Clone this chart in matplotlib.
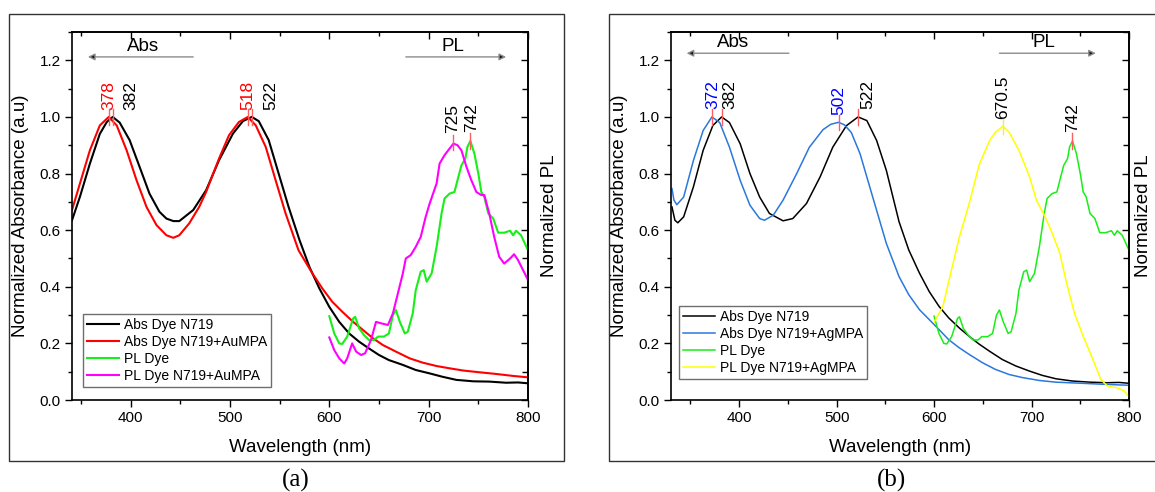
import matplotlib
matplotlib.use('Agg')
import matplotlib.pyplot as plt
from matplotlib.patches import Rectangle
from matplotlib.ticker import MultipleLocator, NullFormatter

plt.rcParams['font.family'] = ['Liberation Sans', 'DejaVu Sans']

###############################
### panel (a): dye N719 vs dye + AuMPA

wl_abs_dye_a = [341, 349, 359, 369, 376, 382, 389, 399, 409, 419, 429, 436, 443, 449, 463, 476, 489, 503, 513, 522,
	529, 539, 549, 559, 570, 580, 590, 600, 610, 620, 630, 640, 650, 660, 674, 687, 701, 714, 728, 745, 761, 778, 790, 800]
abs_dye_a = [0.635, 0.718, 0.835, 0.94, 0.982, 1.0, 0.98, 0.918, 0.824, 0.729, 0.665, 0.641, 0.632, 0.632, 0.671, 0.741,
	0.847, 0.941, 0.985, 1.0, 0.985, 0.918, 0.8, 0.682, 0.565, 0.47, 0.394, 0.329, 0.276, 0.235, 0.206, 0.182, 0.159,
	0.141, 0.124, 0.106, 0.094, 0.082, 0.071, 0.066, 0.065, 0.061, 0.062, 0.059]

wl_abs_au = [341, 349, 359, 369, 378, 386, 396, 406, 416, 426, 436, 443, 449, 459, 469, 476, 489, 499, 509, 518, 526,
	536, 546, 556, 569, 583, 593, 603, 613, 624, 634, 644, 654, 667, 681, 694, 708, 721, 735, 751, 768, 785, 800]
abs_au = [0.671, 0.765, 0.882, 0.97, 1.0, 0.97, 0.882, 0.776, 0.682, 0.618, 0.582, 0.573, 0.582, 0.624, 0.682, 0.735,
	0.853, 0.935, 0.982, 1.0, 0.97, 0.894, 0.776, 0.659, 0.529, 0.447, 0.394, 0.347, 0.312, 0.276, 0.247, 0.218, 0.194,
	0.171, 0.147, 0.132, 0.12, 0.112, 0.104, 0.098, 0.092, 0.085, 0.08]

# PL of the bare dye, same measurement in both panels
wl_pl_dye = [600, 605, 610, 613, 618, 624, 626, 630, 635, 640, 645, 649, 655, 660, 664, 667, 671, 676, 679, 684, 687,
	692, 695, 698, 703, 708, 713, 716, 721, 726, 729, 733, 737, 739, 742, 746, 750, 753, 756, 760, 765, 770, 776, 782,
	785, 788, 793, 800]
pl_dye = [0.296, 0.235, 0.2, 0.198, 0.224, 0.288, 0.294, 0.253, 0.229, 0.212, 0.212, 0.224, 0.224, 0.235, 0.3, 0.318,
	0.276, 0.235, 0.241, 0.306, 0.388, 0.453, 0.459, 0.418, 0.447, 0.541, 0.659, 0.712, 0.729, 0.735, 0.776, 0.829, 0.853,
	0.894, 0.915, 0.871, 0.8, 0.735, 0.718, 0.659, 0.641, 0.591, 0.591, 0.598, 0.582, 0.598, 0.582, 0.529]

wl_pl_au = [600, 605, 610, 615, 618, 623, 627, 632, 636, 642, 647, 652, 659, 664, 669, 674, 677, 682, 687, 692, 697,
	701, 708, 711, 716, 721, 725, 729, 733, 738, 743, 748, 753, 756, 761, 766, 771, 776, 782, 786, 790, 795, 800]
pl_au = [0.221, 0.176, 0.147, 0.129, 0.147, 0.2, 0.171, 0.159, 0.165, 0.212, 0.276, 0.271, 0.265, 0.306, 0.376, 0.447,
	0.5, 0.512, 0.541, 0.576, 0.647, 0.694, 0.765, 0.835, 0.865, 0.888, 0.906, 0.9, 0.882, 0.824, 0.776, 0.735, 0.724,
	0.724, 0.659, 0.576, 0.506, 0.482, 0.5, 0.515, 0.494, 0.459, 0.424]

peaks_a_x = [378, 382, 518, 522, 725, 742]
peaks_a_y = [1.0, 1.0, 1.0, 1.0, 0.91, 0.915]
peaks_a_txt = ['378', '382', '518', '522', '725', '742']

###############################
### panel (b): dye N719 vs dye + AgMPA

wl_abs_dye_b = [331, 334, 337, 343, 353, 363, 373, 382, 390, 401, 411, 421, 431, 445, 455, 469, 483, 496, 510, 522,
	531, 541, 551, 564, 574, 585, 595, 605, 615, 626, 636, 646, 657, 670, 684, 698, 711, 725, 742, 760, 777, 790, 800]
abs_dye_b = [0.682, 0.635, 0.626, 0.647, 0.753, 0.882, 0.97, 1.0, 0.98, 0.905, 0.8, 0.717, 0.659, 0.633, 0.641, 0.694,
	0.788, 0.893, 0.969, 1.0, 0.987, 0.917, 0.811, 0.63, 0.53, 0.448, 0.383, 0.331, 0.29, 0.254, 0.225, 0.198, 0.172,
	0.143, 0.12, 0.102, 0.087, 0.075, 0.067, 0.063, 0.061, 0.062, 0.059]

wl_abs_ag = [331, 333, 336, 343, 353, 363, 372, 380, 390, 401, 411, 421, 426, 435, 445, 459, 472, 486, 494, 502, 508,
	515, 524, 537, 551, 564, 574, 585, 595, 605, 615, 626, 636, 650, 663, 677, 691, 708, 725, 752, 777, 800]
abs_ag = [0.747, 0.706, 0.69, 0.717, 0.846, 0.952, 1.0, 0.98, 0.893, 0.776, 0.688, 0.641, 0.635, 0.653, 0.706, 0.8,
	0.893, 0.955, 0.974, 0.981, 0.972, 0.945, 0.87, 0.717, 0.553, 0.436, 0.372, 0.319, 0.284, 0.249, 0.213, 0.184, 0.161,
	0.131, 0.108, 0.09, 0.079, 0.069, 0.063, 0.059, 0.055, 0.052]

wl_pl_ag = [600, 609, 617, 626, 636, 646, 657, 663, 670.5, 677, 687, 698, 705, 713, 720, 729, 736, 744, 753, 763, 771,
	778, 788, 795, 800]
pl_ag = [0.274, 0.331, 0.448, 0.577, 0.694, 0.829, 0.917, 0.946, 0.967, 0.946, 0.882, 0.788, 0.706, 0.653, 0.6, 0.518,
	0.413, 0.307, 0.225, 0.143, 0.073, 0.049, 0.043, 0.032, 0.012]

peaks_b_x = [372, 382, 502, 522, 670.5, 742]
peaks_b_y = [1.0, 1.0, 0.98, 1.0, 0.967, 0.915]
peaks_b_txt = ['372', '382', '502', '522', '670.5', '742']

###############################
### figure layout (pixels of a 1155x492 canvas)

W, H = 1155, 492
RED = '#ff0000'
GREEN = '#18ee18'
TICKRED = '#ff5c5c'


def fx(px):
	return px / W


def fy(py):
	return 1 - py / H


def setup_axes(ax, xmin):
	ax.set_xlim(xmin, 800)
	ax.set_ylim(0, 1.3)
	ax.xaxis.set_major_locator(MultipleLocator(100))
	ax.xaxis.set_minor_locator(MultipleLocator(50))
	ax.yaxis.set_major_locator(MultipleLocator(0.2))
	ax.yaxis.set_minor_locator(MultipleLocator(0.1))
	ax.yaxis.set_major_formatter('{x:.1f}')
	ax.tick_params(which='major', direction='out', length=5, width=1, labelsize=11, pad=3)
	ax.tick_params(which='minor', direction='out', length=3, width=1)
	for sp in ax.spines.values():
		sp.set_linewidth(1.2)

	top = ax.secondary_xaxis('top')
	top.xaxis.set_major_locator(MultipleLocator(100))
	top.xaxis.set_minor_locator(MultipleLocator(50))
	top.xaxis.set_major_formatter(NullFormatter())
	top.tick_params(which='major', direction='in', length=5, width=1)
	top.tick_params(which='minor', direction='in', length=3, width=1)
	top.spines['top'].set_linewidth(1.2)

	right = ax.secondary_yaxis('right')
	right.yaxis.set_major_locator(MultipleLocator(0.2))
	right.yaxis.set_minor_locator(MultipleLocator(0.1))
	right.yaxis.set_major_formatter(NullFormatter())
	right.tick_params(which='major', direction='in', length=5, width=1)
	right.tick_params(which='minor', direction='in', length=4, width=1)
	right.spines['right'].set_linewidth(1.2)


def mark_peaks(ax, xs, ys, txts, text_x, text_y, text_colors, tick_colors):
	for x, y, t, tx, ty, tc, kc in zip(xs, ys, txts, text_x, text_y, text_colors, tick_colors):
		ax.plot([x, x], [y - 0.027, y + 0.027], color=kc, lw=1, zorder=5)
		ax.text(tx, ty, t, rotation=90, ha='center', va='bottom', color=tc, fontsize=12.5)


def direction_arrows(ax, abs_from, abs_to, abs_txt, pl_from, pl_to, pl_txt, y_arrow, y_txt):
	for x0, x1, tx, name in [(abs_from, abs_to, abs_txt, 'Abs'), (pl_from, pl_to, pl_txt, 'PL')]:
		ax.annotate('', xy=(x1, y_arrow), xytext=(x0, y_arrow),
			arrowprops=dict(arrowstyle='-|>', ec='#8c8c8c', fc='#1a1a1a', lw=1,
				mutation_scale=10, shrinkA=0, shrinkB=0))
		ax.text(tx, y_txt, name, ha='center', va='center', fontsize=13.5)


def add_legend(ax, anchor):
	leg = ax.legend(loc='lower left', bbox_to_anchor=anchor, borderaxespad=0, fancybox=False,
		edgecolor='#6e6e6e', framealpha=1, fontsize=10, handlelength=2.3, handletextpad=0.35,
		labelspacing=0.22, borderpad=0.3)
	leg.get_frame().set_linewidth(1)


fig = plt.figure(figsize=(W / 100, H / 100), dpi=100)

# outer frames around each sub-figure
fig.add_artist(Rectangle((fx(9), fy(461)), fx(564 - 9), (461 - 14) / H, transform=fig.transFigure,
	fill=False, ec='#333333', lw=1))
fig.add_artist(Rectangle((fx(609), fy(461)), fx(1200 - 609), (461 - 14) / H, transform=fig.transFigure,
	fill=False, ec='#333333', lw=1))

###############################
### (a)

ax_a = fig.add_axes([fx(72), fy(400), fx(456), 368 / H])
ax_a.plot(wl_abs_dye_a, abs_dye_a, color='black', lw=1.5, label='Abs Dye N719')
ax_a.plot(wl_abs_au, abs_au, color=RED, lw=1.5, label='Abs Dye N719+AuMPA')
ax_a.plot(wl_pl_dye, pl_dye, color=GREEN, lw=1.5, label='PL Dye')
ax_a.plot(wl_pl_au, pl_au, color='#ff00ff', lw=1.5, label='PL Dye N719+AuMPA')
setup_axes(ax_a, 341)
mark_peaks(ax_a, peaks_a_x, peaks_a_y, peaks_a_txt,
	[378, 400, 518, 541, 724.5, 743], [1.025, 1.025, 1.025, 1.025, 0.942, 0.947],
	[RED, 'black', RED, 'black', 'black', 'black'], [TICKRED] * 6)
direction_arrows(ax_a, 463, 357, 413, 677, 778, 724, 1.212, 1.25)
add_legend(ax_a, (0.024, 0.035))

###############################
### (b)

ax_b = fig.add_axes([fx(671), fy(400), fx(458), 368 / H])
ax_b.plot(wl_abs_dye_b, abs_dye_b, color='black', lw=1.1, label='Abs Dye N719')
ax_b.plot(wl_abs_ag, abs_ag, color='#2a78dc', lw=1.1, label='Abs Dye N719+AgMPA')
ax_b.plot(wl_pl_dye, pl_dye, color=GREEN, lw=1.1, label='PL Dye')
ax_b.plot(wl_pl_ag, pl_ag, color='#ffff00', lw=1.1, label='PL Dye N719+AgMPA')
setup_axes(ax_b, 330)
mark_peaks(ax_b, peaks_b_x, peaks_b_y, peaks_b_txt,
	[372.5, 390.5, 502.5, 532, 670.5, 742.5], [1.028, 1.028, 1.008, 1.028, 0.993, 0.946],
	['#0000ff', 'black', '#0000ff', 'black', 'black', 'black'],
	[TICKRED, TICKRED, TICKRED, TICKRED, '#f2e860', TICKRED])
direction_arrows(ax_b, 451, 346, 394, 667, 766, 713, 1.225, 1.262)
add_legend(ax_b, (0.017, 0.057))

###############################
### axis titles and captions

for spine_x, mid_x in [(72, 300), (671, 900)]:
	fig.text(fx(spine_x - 51), fy(216), 'Normalized Absorbance (a.u)', rotation=90, ha='center', va='center',
		fontsize=13.5)
	fig.text(fx(mid_x), fy(448), 'Wavelength (nm)', ha='center', va='center', fontsize=13.5)
fig.text(fx(550), fy(216), 'Normalized PL', rotation=90, ha='center', va='center', fontsize=13.5)
# sits on the right border in the original; kept just inside the canvas
fig.text(fx(1144), fy(216), 'Normalized PL', rotation=90, ha='center', va='center', fontsize=13.5)

fig.text(fx(296), fy(480), '(a)', ha='center', va='center', fontsize=18, family='Liberation Serif')
fig.text(fx(891), fy(480), '(b)', ha='center', va='center', fontsize=18, family='Liberation Serif')

fig.savefig('out.png', dpi=100)
